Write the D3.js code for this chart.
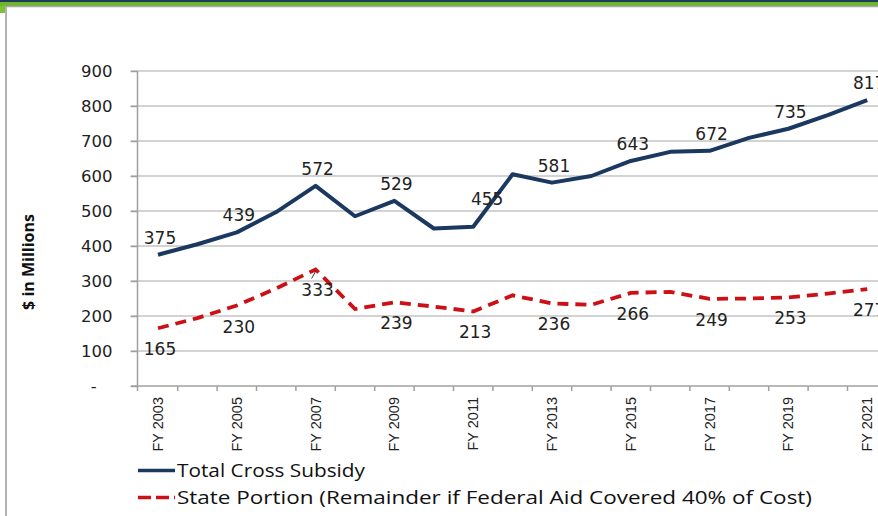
<!DOCTYPE html>
<html lang="en">
<head>
<meta charset="utf-8">
<title>cross subsidy</title>
<script src="https://d3js.org/d3.v7.min.js"></script>
<style>
  body { margin: 0; background: #fff; }
  .tick-label { font-family: "DejaVu Sans", sans-serif; font-size: 16.5px; fill: #222; }
  .x-label { font-family: "Liberation Sans", sans-serif; font-size: 14.5px; fill: #222; }
  .data-label { font-family: "DejaVu Sans", sans-serif; font-size: 17px; fill: #222; }
  .legend-text { font-family: "Open Sans", sans-serif; font-size: 18px; fill: #111; }
  .y-title { font-family: "Open Sans", sans-serif; font-size: 16px; font-weight: bold; fill: #111; }
</style>
</head>
<body>
<div id="chart"></div>
<script>
var width = 878;
var height = 516;

var years = ["2003","2004","2005","2006","2007","2008","2009","2010","2011","2012",
             "2013","2014","2015","2016","2017","2018","2019","2020","2021"];
var totalSubsidy = [375, 405, 439, 497, 572, 485, 529, 450, 455, 605,
                    581, 600, 643, 669, 672, 709, 735, 774, 817];
var statePortion = [165, 194, 230, 279, 333, 220, 239, 227, 213, 259,
                    236, 232, 266, 269, 249, 250, 253, 264, 277];
var yTicks = [0, 100, 200, 300, 400, 500, 600, 700, 800, 900];
// which points get a number printed next to them
var labelled = ["2003","2005","2007","2009","2011","2013","2015","2017","2019","2021"];
var seriesNames = ["Total Cross Subsidy", "State Portion (Remainder if Federal Aid Covered 40% of Cost)"];

var svg = d3.select("#chart").append("svg")
  .attr("width", width)
  .attr("height", height);

// slide frame: navy + green bar at top, grey border
svg.append("rect").attr("x", 0).attr("y", 0).attr("width", width).attr("height", 2).attr("fill", "#1b3a5c");
svg.append("rect").attr("x", 0).attr("y", 2).attr("width", width).attr("height", 4).attr("fill", "#6fb52c");
svg.append("rect").attr("x", 0).attr("y", 6).attr("width", 5).attr("height", 7).attr("fill", "#7cc237");
svg.append("line").attr("x1", 6).attr("x2", width).attr("y1", 6.5).attr("y2", 6.5)
  .attr("stroke", "#a8a8a8").attr("stroke-width", 1.5);
svg.append("line").attr("x1", 6).attr("x2", 6).attr("y1", 6).attr("y2", height)
  .attr("stroke", "#9a9a9a").attr("stroke-width", 1.5);

var step = 39.4;
var x = d3.scalePoint()
  .domain(years)
  .range([158, 158 + step * (years.length - 1)]);

var y = d3.scaleLinear()
  .domain([0, 900])
  .range([386, 71]);

// gridlines
svg.append("g")
  .selectAll("line")
  .data(yTicks.filter(function(d) { return d > 0; }))
  .enter().append("line")
  .attr("x1", 131)
  .attr("x2", width)
  .attr("y1", function(d) { return y(d); })
  .attr("y2", function(d) { return y(d); })
  .attr("stroke", "#c4c4c4")
  .attr("stroke-width", 1.6);

// y axis
var yAxis = svg.append("g")
  .attr("transform", "translate(137.5,0)")
  .call(d3.axisLeft(y)
    .tickValues(yTicks)
    .tickSize(7)
    .tickPadding(18)
    .tickFormat(function(d) { return d === 0 ? "-   " : d; }));
yAxis.select(".domain").attr("stroke", "#a0a0a0").attr("stroke-width", 1.5)
  .attr("d", "M0,391V71");
yAxis.selectAll(".tick line").attr("stroke", "#a0a0a0").attr("stroke-width", 1.5);
yAxis.selectAll(".tick text").attr("class", "tick-label").attr("fill", null)
  .attr("dy", "0.36em").style("white-space", "pre");

// x axis: ticks sit between the points, a label on every other year
var xAxisG = svg.append("g");
xAxisG.append("line")
  .attr("x1", 131).attr("x2", width)
  .attr("y1", y(0)).attr("y2", y(0))
  .attr("stroke", "#a0a0a0").attr("stroke-width", 1.5);
xAxisG.selectAll(".xtick")
  .data(years)
  .enter().append("line")
  .attr("class", "xtick")
  .attr("x1", function(d) { return x(d) + step / 2; })
  .attr("x2", function(d) { return x(d) + step / 2; })
  .attr("y1", y(0))
  .attr("y2", y(0) + 5)
  .attr("stroke", "#a0a0a0").attr("stroke-width", 1.5);
xAxisG.selectAll(".x-label")
  .data(years.filter(function(d) { return labelled.indexOf(d) >= 0; }))
  .enter().append("text")
  .attr("class", "x-label")
  .attr("text-anchor", "end")
  .attr("transform", function(d) { return "translate(" + (x(d) + 5) + "," + 397 + ") rotate(-90)"; })
  .text(function(d) { return "FY " + d; });

// y title
svg.append("text")
  .attr("class", "y-title")
  .attr("text-anchor", "middle")
  .attr("transform", "translate(34,262) rotate(-90)")
  .text("$ in Millions");

var line = d3.line()
  .x(function(d, i) { return x(years[i]); })
  .y(function(d) { return y(d); });

svg.append("path")
  .datum(statePortion)
  .attr("d", line)
  .attr("fill", "none")
  .attr("stroke", "#cc1016")
  .attr("stroke-width", 3.8)
  .attr("stroke-dasharray", "11,7");

svg.append("path")
  .datum(totalSubsidy)
  .attr("d", line)
  .attr("fill", "none")
  .attr("stroke", "#1b3860")
  .attr("stroke-width", 4)
  .attr("stroke-linejoin", "round");

// data labels (the 2011 one is nudged up-right off the line, as in the original)
svg.append("g").selectAll("text")
  .data(years.filter(function(d) { return labelled.indexOf(d) >= 0; }))
  .enter().append("text")
  .attr("class", "data-label")
  .attr("text-anchor", "middle")
  .attr("x", function(d) { return x(d) + (d === "2011" ? 14 : 2); })
  .attr("y", function(d) { return y(totalSubsidy[years.indexOf(d)]) - (d === "2011" ? 22 : 11); })
  .text(function(d) { return totalSubsidy[years.indexOf(d)]; });

svg.append("g").selectAll("text")
  .data(years.filter(function(d) { return labelled.indexOf(d) >= 0; }))
  .enter().append("text")
  .attr("class", "data-label")
  .attr("text-anchor", "middle")
  .attr("x", function(d) { return x(d) + 2; })
  .attr("y", function(d) { return y(statePortion[years.indexOf(d)]) + 27; })
  .text(function(d) { return statePortion[years.indexOf(d)]; });

// leader line on the 2007 state label
var i07 = years.indexOf("2007");
svg.append("line")
  .attr("x1", x("2007")).attr("y1", y(statePortion[i07]) + 2)
  .attr("x2", x("2007") - 4).attr("y2", y(statePortion[i07]) + 9)
  .attr("stroke", "#333").attr("stroke-width", 1);

// legend
var legend = svg.append("g");
legend.append("line")
  .attr("x1", 138).attr("x2", 175).attr("y1", 470.5).attr("y2", 470.5)
  .attr("stroke", "#1b3860").attr("stroke-width", 3.5);
legend.append("text")
  .attr("class", "legend-text")
  .attr("x", 177).attr("y", 477)
  .attr("textLength", 188).attr("lengthAdjust", "spacingAndGlyphs")
  .text(seriesNames[0]);
legend.append("line")
  .attr("x1", 138).attr("x2", 175).attr("y1", 497.5).attr("y2", 497.5)
  .attr("stroke", "#cc1016").attr("stroke-width", 3.5)
  .attr("stroke-dasharray", "13,5");
legend.append("text")
  .attr("class", "legend-text")
  .attr("x", 177).attr("y", 504)
  .attr("textLength", 635).attr("lengthAdjust", "spacingAndGlyphs")
  .text(seriesNames[1]);
</script>
</body>
</html>
